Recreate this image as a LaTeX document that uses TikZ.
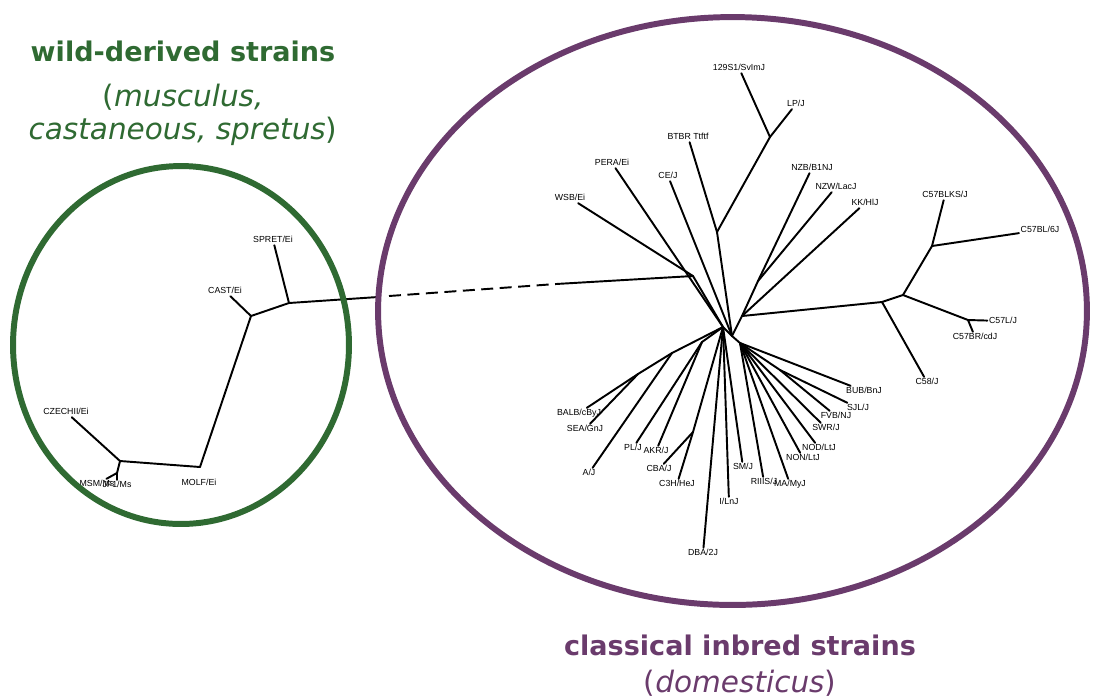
\documentclass[tikz,border=0pt]{standalone}
\usepackage{fontspec}
\setmainfont{Liberation Sans}
\newfontfamily\titlefont{DejaVu Sans}
\usetikzlibrary{positioning}

\definecolor{wildgreen}{HTML}{2F6A32}
\definecolor{inbredpurple}{HTML}{6A3B6C}

\begin{document}
\begin{tikzpicture}[
  x=0.02cm, y=-0.02cm,
  font=\fontsize{5}{6}\selectfont,
  leaf/.style={inner sep=0.8pt, text height=3.6pt, text depth=0.3pt},
  branch/.style={line width=1.1pt, line cap=round, line join=round},
  ring/.style={line width=3.4pt},
  grouptitle/.style={font=\titlefont\bfseries\fontsize{15.4}{18.7}\selectfont, inner sep=0pt},
  groupsub/.style={font=\titlefont\fontsize{16.8}{18.7}\selectfont, align=center, inner sep=0pt}
]

\useasboundingbox (0,0) rectangle (1095,698);

% wild-derived leaves
\node[leaf] (spret) at (273,240) {SPRET/Ei};
\node[leaf] (cast)  at (225,291) {CAST/Ei};
\node[leaf] (molf)  at (199,483) {MOLF/Ei};
\node[leaf] (czech) at (66,412)  {CZECHII/Ei};
\node[leaf] (msm)   at (97,484)  {MSM/Ms};
\node[leaf] (jf1)   at (117,485) {JF1/Ms};

\coordinate (w1) at (289,303);
\coordinate (w2) at (251,316);
\coordinate (w3) at (200,467);
\coordinate (w4) at (120,461);
\coordinate (w5) at (117,473);
\coordinate (wr) at (378,297);
\coordinate (dl) at (389,296);
\coordinate (dr) at (556,284);

% classical inbred leaves
\node[leaf] (s129)    at (739,68)   {129S1/SvImJ};
\node[leaf] (lpj)     at (796,104)  {LP/J};
\node[leaf] (btbr)    at (688,137)  {BTBR Ttftf};
\node[leaf] (pera)    at (612,163)  {PERA/Ei};
\node[leaf] (cej)     at (668,176)  {CE/J};
\node[leaf] (wsb)     at (570,198)  {WSB/Ei};
\node[leaf] (nzb)     at (812,168)  {NZB/B1NJ};
\node[leaf] (nzw)     at (836,187)  {NZW/LacJ};
\node[leaf] (kkh)     at (865,203)  {KK/HlJ};
\node[leaf] (c57blks) at (945,195)  {C57BLKS/J};
\node[leaf] (c57bl6)  at (1040,230) {C57BL/6J};
\node[leaf] (c57l)    at (1003,321) {C57L/J};
\node[leaf] (c57br)   at (975,337)  {C57BR/cdJ};
\node[leaf] (c58)     at (927,382)  {C58/J};
\node[leaf] (bub)     at (864,391)  {BUB/BnJ};
\node[leaf] (sjl)     at (858,408)  {SJL/J};
\node[leaf] (fvb)     at (836,416)  {FVB/NJ};
\node[leaf] (swr)     at (826,428)  {SWR/J};
\node[leaf] (nod)     at (819,448)  {NOD/LtJ};
\node[leaf] (non)     at (803,458)  {NON/LtJ};
\node[leaf] (maj)     at (790,484)  {MA/MyJ};
\node[leaf] (riiis)   at (764,482)  {RIIIS/J};
\node[leaf] (smj)     at (743,467)  {SM/J};
\node[leaf] (ilnj)    at (729,502)  {I/LnJ};
\node[leaf] (dba)     at (703,553)  {DBA/2J};
\node[leaf] (c3h)     at (677,484)  {C3H/HeJ};
\node[leaf] (cba)     at (659,469)  {CBA/J};
\node[leaf] (akr)     at (656,451)  {AKR/J};
\node[leaf] (plj)     at (633,448)  {PL/J};
\node[leaf] (aj)      at (589,473)  {A/J};
\node[leaf] (sea)     at (585,429)  {SEA/GnJ};
\node[leaf] (balb)    at (579,413)  {BALB/cByJ};

\coordinate (c1)  at (693,276);
\coordinate (c2)  at (723,327);
\coordinate (c3)  at (732,336);
\coordinate (c4)  at (742,316);
\coordinate (nbt) at (717,232);
\coordinate (nlp) at (770,137);
\coordinate (nnz) at (758,281);
\coordinate (na)  at (882,302);
\coordinate (nb)  at (903,295);
\coordinate (nc)  at (932,246);
\coordinate (nd)  at (968,320);
\coordinate (nla) at (672,353);
\coordinate (nbs) at (638,374);
\coordinate (npa) at (702,342);
\coordinate (ncc) at (693,432);
\coordinate (nr)  at (740,343);
\coordinate (nsf) at (780,370);

% wild-derived branches
\draw[branch] (w1) -- (spret);
\draw[branch] (w1) -- (w2);
\draw[branch] (w2) -- (cast);
\draw[branch] (w2) -- (w3);
\draw[branch] (w3) -- (w4);
\draw[branch] (w4) -- (czech);
\draw[branch] (w4) -- (w5);
\draw[branch] (w5) -- (msm);
\draw[branch] (w5) -- (jf1);
\draw[branch] (w1) -- (wr);
\draw[branch, line cap=butt, dash pattern=on 0.24cm off 0.13cm] (dl) -- (dr);
\draw[branch] (dr) -- (c1);

% classical inbred branches
\draw[branch] (c1) -- (wsb);
\draw[branch] (c1) -- (c2);
\draw[branch] (pera) -- (c2);
\draw[branch] (cej) -- (c3);
\draw[branch] (c2) -- (c3);
\draw[branch] (btbr) -- (nbt);
\draw[branch] (nbt) -- (c3);
\draw[branch] (nbt) -- (nlp);
\draw[branch] (nlp) -- (s129);
\draw[branch] (nlp) -- (lpj);
\draw[branch] (c3) -- (c4);
\draw[branch] (c4) -- (kkh);
\draw[branch] (c4) -- (nnz);
\draw[branch] (nnz) -- (nzb);
\draw[branch] (nnz) -- (nzw);
\draw[branch] (c4) -- (na);
\draw[branch] (na) -- (c58);
\draw[branch] (na) -- (nb);
\draw[branch] (nb) -- (nc);
\draw[branch] (nc) -- (c57blks);
\draw[branch] (nc) -- (c57bl6);
\draw[branch] (nb) -- (nd);
\draw[branch] (nd) -- (c57l);
\draw[branch] (nd) -- (c57br);
\draw[branch] (c2) -- (nla);
\draw[branch] (nla) -- (nbs);
\draw[branch] (nbs) -- (balb);
\draw[branch] (nbs) -- (sea);
\draw[branch] (nla) -- (aj);
\draw[branch] (c2) -- (npa);
\draw[branch] (npa) -- (plj);
\draw[branch] (npa) -- (akr);
\draw[branch] (c2) -- (ncc);
\draw[branch] (ncc) -- (cba);
\draw[branch] (ncc) -- (c3h);
\draw[branch] (c2) -- (dba);
\draw[branch] (c2) -- (ilnj);
\draw[branch] (c2) -- (smj);
\draw[branch] (c3) -- (nr);
\draw[branch] (nr) -- (bub);
\draw[branch] (nr) -- (nsf);
\draw[branch] (nsf) -- (sjl);
\draw[branch] (nsf) -- (fvb);
\draw[branch] (nr) -- (swr);
\draw[branch] (nr) -- (nod);
\draw[branch] (nr) -- (non);
\draw[branch] (nr) -- (maj);
\draw[branch] (nr) -- (riiis);

% group rings
\draw[ring, wildgreen] (181,345) ellipse [x radius=3.36cm, y radius=3.58cm];
\draw[ring, inbredpurple] (732.5,311) ellipse [x radius=7.09cm, y radius=5.88cm];

% group titles
\node[grouptitle, text=wildgreen] (wildttl) at (183,51) {wild-derived strains};
\node[groupsub, text=wildgreen, below=0.44cm of wildttl] (wildsub)
  {(\textit{musculus,}\\\textit{castaneous, spretus})};
\node[grouptitle, text=inbredpurple] (inbttl) at (740,645) {classical inbred strains};
\node[groupsub, text=inbredpurple, below=0.28cm of inbttl] (inbsub)
  {(\textit{domesticus})};

\end{tikzpicture}
\end{document}
